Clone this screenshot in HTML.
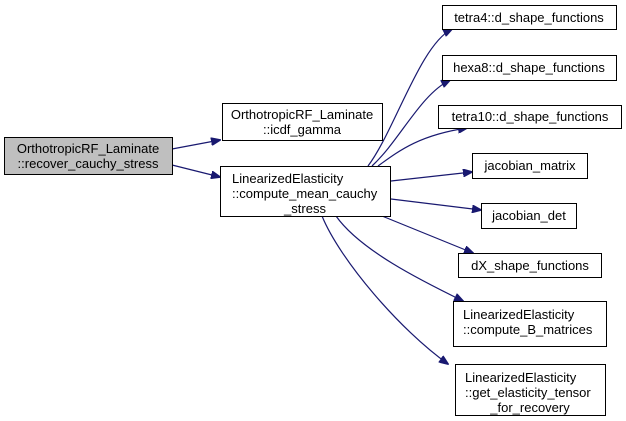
<!DOCTYPE html>
<html><head><style>
body{margin:0;background:#fff;}
svg{display:block;font-family:"Liberation Sans",Arial,sans-serif;font-size:13px;}
</style></head><body>
<svg width="626" height="421" viewBox="0 0 626 421">
<defs><marker id="a" markerWidth="10" markerHeight="8" refX="9" refY="4" orient="auto" markerUnits="userSpaceOnUse"><path d="M0,0 L10,4 L0,8 Z" fill="#191970" stroke="#191970"/></marker></defs>
<g fill="none" stroke="#191970" stroke-width="1.2" marker-end="url(#a)">
<path d="M172,149 L220,140"/>
<path d="M172,165 L220,177"/>
<path d="M368,166 C395,130 420,45 452,29"/>
<path d="M372,166 C400,140 420,95 450,80"/>
<path d="M378,166 C400,150 420,135 467,128"/>
<path d="M391,181 L472,172"/>
<path d="M391,199 L481,210"/>
<path d="M382,216 L473,253"/>
<path d="M336,216 C360,250 420,280 463,301"/>
<path d="M322,216 C340,260 400,330 448,364"/>
</g>
<g stroke="#000" stroke-width="1">
<rect x="4.5" y="137.5" width="168" height="37" fill="#bfbfbf"/>
<rect x="222.5" y="103.5" width="160" height="37" fill="#fff"/>
<rect x="220.5" y="166.5" width="170" height="50" fill="#fff"/>
<rect x="442.5" y="5.5" width="174" height="24" fill="#fff"/>
<rect x="442.5" y="55.5" width="174" height="25" fill="#fff"/>
<rect x="438.5" y="105.5" width="183" height="23" fill="#fff"/>
<rect x="472.5" y="153.5" width="115" height="25" fill="#fff"/>
<rect x="481.5" y="203.5" width="95" height="25" fill="#fff"/>
<rect x="458.5" y="253.5" width="143" height="24" fill="#fff"/>
<rect x="453.5" y="301.5" width="153" height="45" fill="#fff"/>
<rect x="455.5" y="364.5" width="150" height="51" fill="#fff"/>
</g>
<g fill="#000" text-anchor="middle">
<text x="88" y="153">OrthotropicRF_Laminate</text>
<text x="88" y="168">::recover_cauchy_stress</text>
<text x="302" y="119">OrthotropicRF_Laminate</text>
<text x="302" y="134">::icdf_gamma</text>
<text x="232" y="183" text-anchor="start">LinearizedElasticity</text>
<text x="232" y="198" text-anchor="start">::compute_mean_cauchy</text>
<text x="305" y="213">_stress</text>
<text x="529" y="22">tetra4::d_shape_functions</text>
<text x="529" y="72">hexa8::d_shape_functions</text>
<text x="530" y="121">tetra10::d_shape_functions</text>
<text x="530" y="170">jacobian_matrix</text>
<text x="529" y="220">jacobian_det</text>
<text x="530" y="270">dX_shape_functions</text>
<text x="463" y="319" text-anchor="start">LinearizedElasticity</text>
<text x="463" y="334" text-anchor="start">::compute_B_matrices</text>
<text x="465" y="382" text-anchor="start">LinearizedElasticity</text>
<text x="465" y="397" text-anchor="start">::get_elasticity_tensor</text>
<text x="530" y="412">_for_recovery</text>
</g>
</svg>
</body></html>
